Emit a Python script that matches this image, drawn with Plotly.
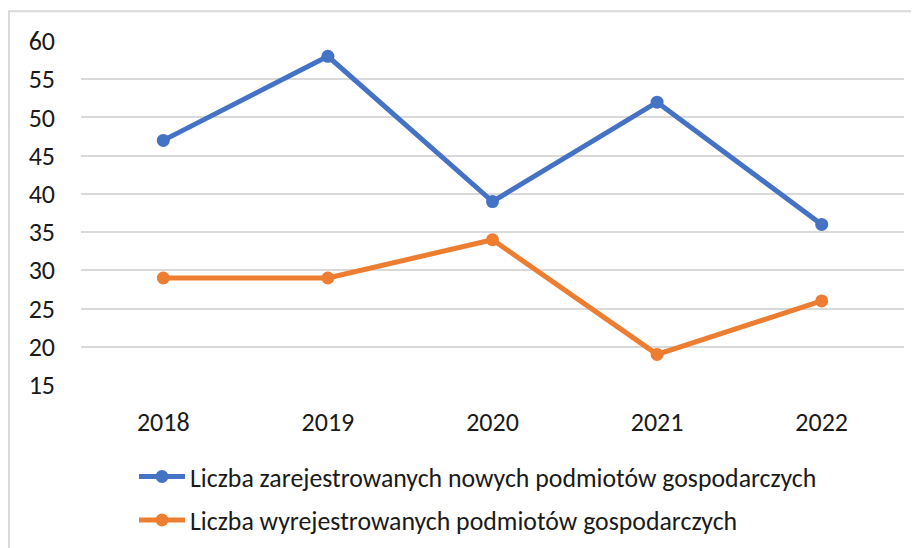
import plotly.graph_objects as go

# ---- data ----------------------------------------------------------------
YEARS = ["2018", "2019", "2020", "2021", "2022"]
REGISTERED = [47, 58, 39, 52, 36]
DEREGISTERED = [29, 29, 34, 19, 26]
NAME_REG = "Liczba zarejestrowanych nowych podmiotów gospodarczych"
NAME_DEREG = "Liczba wyrejestrowanych podmiotów gospodarczych"

BLUE, ORANGE, GRID = "#4472C4", "#ED7D31", "#D9D9D9"
FONT = "Calibri, Carlito, Lato, sans-serif"

# page body adds an 8px offset, so positions below are in figure pixels
W, H = 919, 548
L, R, T, B = 73, 23, 33, 167
pw, ph = W - L - R, H - T - B


def px_x(x):
    return (x - L) / pw


def px_y(y):
    return 1 - (y - T) / ph


fig = go.Figure()
for name, vals, col, grp in [(NAME_REG, REGISTERED, BLUE, "a"),
                             (NAME_DEREG, DEREGISTERED, ORANGE, "b")]:
    fig.add_trace(go.Scatter(
        x=YEARS, y=vals, name=name, mode="lines+markers", legendgroup=grp,
        line=dict(color=col, width=5), marker=dict(color=col, size=13)))

# chart border (cropped on the right and bottom)
fig.add_shape(type="rect", xref="paper", yref="paper",
              x0=px_x(1), x1=px_x(940), y0=px_y(570), y1=px_y(3),
              line=dict(color=GRID, width=2), fillcolor="rgba(0,0,0,0)")

fig.update_layout(
    width=W, height=H, margin=dict(l=L, r=R, t=T, b=B),
    paper_bgcolor="white", plot_bgcolor="white",
    font=dict(family=FONT, size=26, color="#1a1a1a"),
    showlegend=True,
    legend=dict(orientation="v", x=px_x(126), y=px_y(450), xanchor="left", yanchor="top",
                font=dict(size=25.8), itemwidth=46, tracegroupgap=7,
                bgcolor="rgba(0,0,0,0)"),
)
fig.update_xaxes(type="category", range=[-0.5, 4.5], showgrid=False, showline=False,
                 zeroline=False, ticks="", ticklabelstandoff=19)
fig.update_yaxes(range=[15, 60], dtick=5, tick0=15, showgrid=True, gridcolor=GRID,
                 gridwidth=1.5, zeroline=False, showline=False, ticks="",
                 ticklabelstandoff=25)

fig.write_html("out.html")
